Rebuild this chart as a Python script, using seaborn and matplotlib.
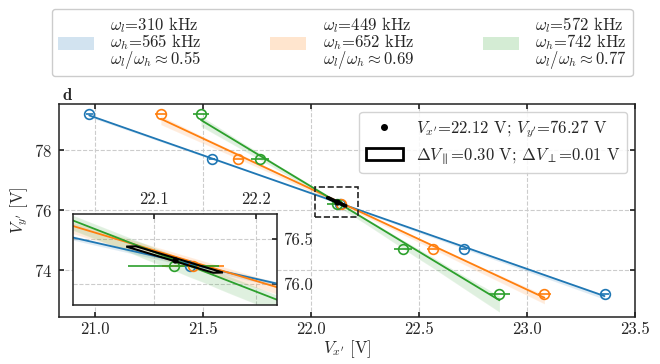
import numpy as np
import pandas as pd
import matplotlib
matplotlib.use("Agg")
import matplotlib.pyplot as plt
from matplotlib.patches import Patch, Rectangle, Polygon
from matplotlib.lines import Line2D
import seaborn as sns

# ---------------- data ----------------
vy = [79.2, 77.7, 76.2, 74.7, 73.2]
blue_x = [20.975, 21.542, 22.135, 22.707, 23.359]
orange_x = [21.306, 21.665, 22.138, 22.564, 23.081]
green_x = [21.492, 21.765, 22.119, 22.426, 22.873]
blue_xerr = [0.015, 0.015, 0.015, 0.018, 0.02]
orange_xerr = [0.025, 0.025, 0.03, 0.028, 0.03]
green_xerr = [0.039, 0.040, 0.045, 0.043, 0.048]

series_labels = [
    "$\\omega_l$=310 kHz\n$\\omega_h$=565 kHz\n$\\omega_l/\\omega_h \\approx 0.55$",
    "$\\omega_l$=449 kHz\n$\\omega_h$=652 kHz\n$\\omega_l/\\omega_h \\approx 0.69$",
    "$\\omega_l$=572 kHz\n$\\omega_h$=742 kHz\n$\\omega_l/\\omega_h \\approx 0.77$",
]
colors = ["#1f77b4", "#ff7f0e", "#2ca02c"]

center = (22.12, 76.27)
d_par = 0.30
d_perp = 0.01
rect_angle_deg = -73.5

xticks = [21.0, 21.5, 22.0, 22.5, 23.0, 23.5]
yticks = [74, 76, 78]
inset_xticks = [22.1, 22.2]
inset_yticks = [76.0, 76.5]
inset_xlim = (22.02, 22.22)
inset_ylim = (75.77, 76.77)

# ---------------- style ----------------
sns.set_theme(style="ticks")
plt.rcParams["font.family"] = "serif"
plt.rcParams["font.serif"] = ["cmr10"]
plt.rcParams["mathtext.fontset"] = "cm"
plt.rcParams["axes.formatter.use_mathtext"] = True
plt.rcParams["axes.unicode_minus"] = False
plt.rcParams["font.size"] = 12

FS = 12

fig = plt.figure(figsize=(6.6, 3.64), dpi=100)
ax = fig.add_axes([0.0894, 0.129, 0.8727, 0.585])
axin = fig.add_axes([0.110, 0.162, 0.309, 0.250])

xs_all = [blue_x, orange_x, green_x]
xerr_all = [blue_xerr, orange_xerr, green_xerr]

def rect_poly():
    th = np.deg2rad(rect_angle_deg)
    u = np.array([np.cos(th), np.sin(th)])
    v = np.array([-np.sin(th), np.cos(th)])
    c = np.array(center)
    pts = [c + s1 * u * d_par / 2 + s2 * v * d_perp / 2
           for s1, s2 in [(-1, -1), (1, -1), (1, 1), (-1, 1)]]
    return np.array(pts)

for a, rlw in ((ax, 2.0), (axin, 1.5)):
    for xs, xe, c in zip(xs_all, xerr_all, colors):
        df = pd.DataFrame({"x": xs, "y": vy})
        sns.regplot(data=df, x="x", y="y", ax=a, scatter=False, ci=55,
                    n_boot=1000, seed=0, color=c, truncate=True,
                    line_kws=dict(lw=1.3))
        a.errorbar(xs, vy, xerr=xe, fmt="o", mfc="none", mec=c, ecolor=c,
                   ms=7, mew=1.2, lw=1.2, capsize=0, zorder=3)
    a.add_patch(Polygon(rect_poly(), closed=True, facecolor="none",
                        edgecolor="black", lw=rlw, zorder=5))
    a.plot([center[0]], [center[1]], "o", color="black", ms=3.5, zorder=6)
    a.set_xlabel("")
    a.set_ylabel("")
    a.grid(True, ls="--", color="#cccccc", lw=0.8)
    a.set_axisbelow(True)
    for s in a.spines.values():
        s.set_color("#222222")
        s.set_linewidth(1.1)

# main axes
ax.set_xlim(20.835, 23.5)
ax.set_ylim(72.43, 79.53)
ax.set_xticks(xticks)
ax.set_xticklabels([f"{t:.1f}" for t in xticks])
ax.set_yticks(yticks)
ax.tick_params(direction="in", top=True, right=True, length=3.5,
               labelsize=FS, pad=5)
ax.tick_params(axis="x", pad=3.5)
ax.set_xlabel("$V_{x'}$ [V]", fontsize=FS, labelpad=1)
ax.set_ylabel("$V_{y'}$ [V]", fontsize=FS, labelpad=3)
ax.add_patch(Rectangle((inset_xlim[0], inset_ylim[0]),
                       inset_xlim[1] - inset_xlim[0], inset_ylim[1] - inset_ylim[0],
                       fill=False, ls="--", lw=1.2, edgecolor="#222222", zorder=7))

# inset
axin.set_xlim(*inset_xlim)
axin.set_ylim(*inset_ylim)
axin.set_xticks(inset_xticks)
axin.set_xticklabels([f"{t:.1f}" for t in inset_xticks])
axin.set_yticks(inset_yticks)
axin.set_yticklabels([f"{t:.1f}" for t in inset_yticks])
axin.xaxis.tick_top()
axin.yaxis.tick_right()
axin.tick_params(direction="in", length=3.5, labelsize=FS, pad=5)

# inner legend
h1 = Line2D([], [], marker="o", color="black", ls="none", ms=4)
h2 = Patch(facecolor="white", edgecolor="black", lw=2.0)
ax.legend([h1, h2],
          ["$V_{x'}$=22.12 V; $V_{y'}$=76.27 V",
           "$\\Delta V_{\\parallel}$=0.30 V; $\\Delta V_{\\perp}$=0.01 V"],
          loc="upper right", fontsize=FS, handlelength=2.2, handleheight=0.76,
          handletextpad=0.8, framealpha=0.85, edgecolor="#cccccc",
          borderaxespad=0.45, labelspacing=0.35)

# top legend
handles = [Patch(facecolor=c, alpha=0.2, edgecolor="none") for c in colors]
leg = fig.legend(handles, series_labels, loc="upper center", ncol=3,
                 bbox_to_anchor=(0.5185, 0.975), fontsize=FS, handlelength=2.16,
                 handleheight=0.8, handletextpad=1.0, columnspacing=4.1,
                 edgecolor="#cccccc", framealpha=1.0, borderpad=0.35,
                 borderaxespad=0.0)
for t in leg.get_texts():
    t.set_linespacing(0.8)

fig.text(0.094, 0.725, "d", fontsize=FS, family="cmb10")

fig.savefig("out.png", dpi=100)
